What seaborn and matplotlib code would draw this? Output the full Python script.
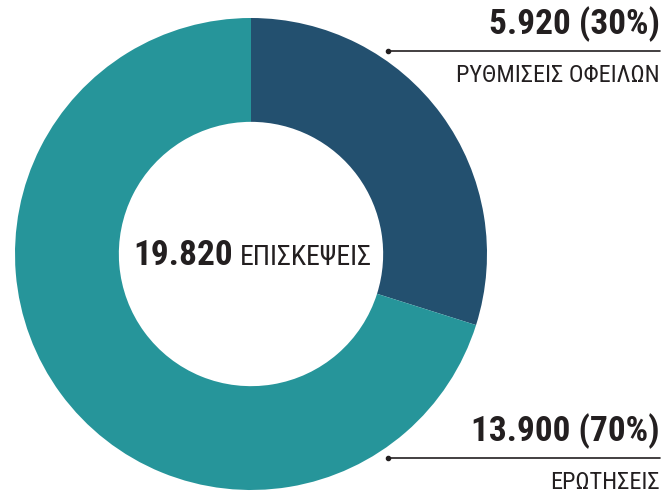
import matplotlib
matplotlib.use("Agg")
import matplotlib.pyplot as plt
import seaborn as sns
from matplotlib import font_manager

sns.set_theme(style="white")

names = {f.name for f in font_manager.fontManager.ttflist}
fam = "Roboto"
for cand in ["Roboto Condensed", "Liberation Sans Narrow", "Open Sans Condensed"]:
    if cand in names:
        fam = cand
        break
plt.rcParams["font.family"] = [fam, "DejaVu Sans"]

labels = ["ΡΥΘΜΙΣΕΙΣ ΟΦΕΙΛΩΝ", "ΕΡΩΤΗΣΕΙΣ"]
values = [5920, 13900]
value_text = ["5.920", "13.900"]
pct_text = ["30%", "70%"]
total_text = "19.820"
total_label = "ΕΠΙΣΚΕΨΕΙΣ"
colors = ["#23506f", "#26959a"]

fig = plt.figure(figsize=(6.64, 4.94), dpi=100)
ax = fig.add_axes([0, 0, 1, 1])
R = 236.0
cx, cy = 251.0, 254.0
ax.pie(values, colors=colors, startangle=90, counterclock=False,
       radius=1, wedgeprops=dict(width=0.44, edgecolor="none"))
ax.set_xlim(-cx / R, (664 - cx) / R)
ax.set_ylim((cy - 494) / R, cy / R)
ax.set_aspect("equal")
ax.axis("off")

def px(x, y):
    return ((x - cx) / R, (cy - y) / R)

dark = "#231f20"
ax.text(*px(233, 255), total_text, ha="right", va="center",
        fontsize=25.5, fontweight="bold", color=dark)
ax.text(*px(240, 257), total_label, ha="left", va="center",
        fontsize=20, color=dark)

ys = [51, 458]
for i in range(2):
    y = ys[i]
    ax.plot([px(388, y)[0], px(660, y)[0]], [px(388, y)[1]] * 2,
            color=dark, lw=1.2)
    ax.plot(*px(388, y), "o", color=dark, ms=3)
    ax.text(*px(660, y - 9), f"{value_text[i]} ({pct_text[i]})",
            ha="right", va="bottom", fontsize=25.5, fontweight="bold", color=dark)
    ax.text(*px(660, y + 13), labels[i], ha="right", va="top",
            fontsize=17.5, color=dark)

fig.savefig("out.png", dpi=100)
